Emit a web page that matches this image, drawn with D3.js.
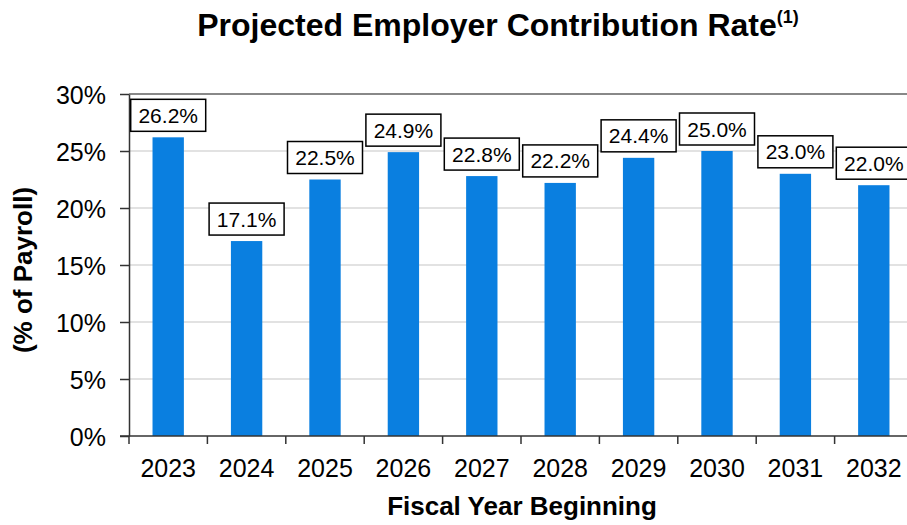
<!DOCTYPE html>
<html>
<head>
<meta charset="utf-8">
<script src="https://cdn.jsdelivr.net/npm/d3@7"></script>
<style>
  body { margin: 0; background: #fff; }
  text { font-family: "Liberation Sans", Arial, sans-serif; }
</style>
</head>
<body>
<script>
const years = ["2023","2024","2025","2026","2027","2028","2029","2030","2031","2032"];
const rates = [26.2, 17.1, 22.5, 24.9, 22.8, 22.2, 24.4, 25.0, 23.0, 22.0];
const yTicks = [0, 5, 10, 15, 20, 25, 30];

const width = 907, height = 525;
const margin = {top: 94, right: -6, bottom: 89, left: 129};

const svg = d3.select("body").append("svg")
    .attr("width", width)
    .attr("height", height);

const x = d3.scaleBand()
    .domain(years)
    .range([margin.left, width - margin.right])
    .paddingInner(0.6).paddingOuter(0.3);

const y = d3.scaleLinear()
    .domain([0, 30])
    .range([height - margin.bottom, margin.top]);

// gridlines
svg.append("g").selectAll("line")
    .data(yTicks.filter(d => d > 0))
    .enter().append("line")
    .attr("x1", margin.left).attr("x2", width)
    .attr("y1", d => y(d)).attr("y2", d => y(d))
    .attr("stroke", d => d === 30 ? "#888" : "#d9d9d9")
    .attr("stroke-width", d => d === 30 ? 2 : 1.5);

// bars
svg.append("g").selectAll("rect")
    .data(rates)
    .enter().append("rect")
    .attr("x", (d, i) => x(years[i]))
    .attr("width", x.bandwidth())
    .attr("y", d => y(d))
    .attr("height", d => y(0) - y(d))
    .attr("fill", "#0a7fe0");

// y axis
const yAxis = svg.append("g")
    .attr("transform", `translate(${margin.left},0)`)
    .call(d3.axisLeft(y).tickValues(yTicks).tickFormat(d => d + "%").tickSize(9).tickPadding(14).tickSizeOuter(0));
yAxis.select(".domain").attr("stroke", "#333").attr("stroke-width", 1.5);
yAxis.selectAll(".tick line").attr("stroke", "#333").attr("stroke-width", 1.5);
yAxis.selectAll("text").attr("font-size", 25).attr("fill", "#000").attr("dy", "0.36em");

// x axis
const x0 = height - margin.bottom;
const step = x.step();
const xAxis = svg.append("g");
xAxis.append("line")
    .attr("x1", margin.left - 9).attr("x2", width)
    .attr("y1", x0).attr("y2", x0)
    .attr("stroke", "#333").attr("stroke-width", 1.5);
xAxis.selectAll(".xt")
    .data(years)
    .enter().append("line")
    .attr("x1", d => x(d) + x.bandwidth() / 2 - step / 2)
    .attr("x2", d => x(d) + x.bandwidth() / 2 - step / 2)
    .attr("y1", x0).attr("y2", x0 + 8)
    .attr("stroke", "#333").attr("stroke-width", 1.5);
xAxis.selectAll(".xl")
    .data(years)
    .enter().append("text")
    .attr("x", d => x(d) + x.bandwidth() / 2)
    .attr("y", 477)
    .attr("text-anchor", "middle")
    .attr("font-size", 25)
    .text(d => d);

// value labels
const lab = svg.append("g").selectAll("g")
    .data(rates)
    .enter().append("g")
    .attr("transform", (d, i) => `translate(${x(years[i]) + x.bandwidth() / 2},${y(d) - 6})`);
lab.append("rect")
    .attr("x", -37.5).attr("y", -32)
    .attr("width", 75).attr("height", 32)
    .attr("fill", "#fff").attr("stroke", "#000").attr("stroke-width", 1.5);
lab.append("text")
    .attr("y", -8.5)
    .attr("text-anchor", "middle")
    .attr("font-size", 21)
    .text(d => d.toFixed(1) + "%");

// title
const title = svg.append("text")
    .attr("x", 498).attr("y", 36)
    .attr("text-anchor", "middle")
    .attr("font-size", 32).attr("font-weight", "bold");
title.append("tspan").text("Projected Employer Contribution Rate");
title.append("tspan").attr("font-size", 18).attr("dy", -13).text("(1)");

// axis titles
svg.append("text")
    .attr("x", 522).attr("y", 515)
    .attr("text-anchor", "middle")
    .attr("font-size", 26).attr("font-weight", "bold")
    .text("Fiscal Year Beginning");

svg.append("text")
    .attr("transform", "translate(32,270) rotate(-90)")
    .attr("text-anchor", "middle")
    .attr("font-size", 26).attr("font-weight", "bold")
    .text("(% of Payroll)");
</script>
</body>
</html>
